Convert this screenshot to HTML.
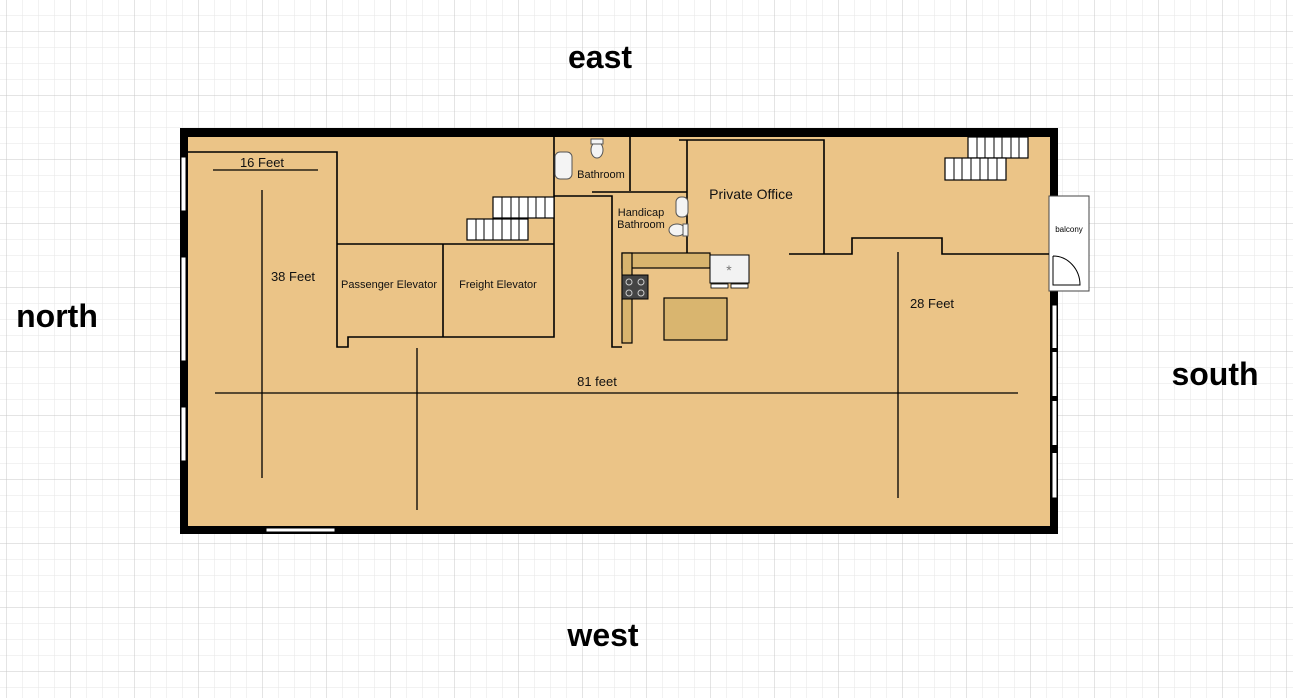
<!DOCTYPE html>
<html><head><meta charset="utf-8"><style>
html,body{margin:0;padding:0;background:#fff}
svg{display:block}
text{font-family:"Liberation Sans",sans-serif}
</style></head><body>
<svg width="1293" height="698" viewBox="0 0 1293 698" xmlns="http://www.w3.org/2000/svg">
<defs>
<pattern id="minor" x="6" y="15" width="16" height="16" patternUnits="userSpaceOnUse">
<path d="M0 0H16M0 0V16" stroke="#e6e6e6" stroke-width="1" fill="none"/>
</pattern>
<pattern id="major" x="6" y="31" width="64" height="64" patternUnits="userSpaceOnUse">
<path d="M0 0H64M0 0V64" stroke="#c8c8c8" stroke-width="1" fill="none"/>
</pattern>
</defs>
<rect width="1293" height="698" fill="#fff"/>
<rect width="1293" height="698" fill="url(#minor)"/>
<rect width="1293" height="698" fill="url(#major)"/>

<!-- building -->
<rect x="180" y="128" width="878" height="406" fill="#000"/>
<rect x="188" y="137" width="862" height="389" fill="#ebc487"/>

<!-- left wall windows -->
<g fill="#fff" stroke="#000" stroke-width="1">
<rect x="181" y="157" width="5" height="54"/>
<rect x="181" y="257" width="5" height="104"/>
<rect x="181" y="407" width="5" height="54"/>
<rect x="266" y="528" width="69" height="4"/>
<rect x="1052" y="305" width="5" height="193"/>
</g>
<g fill="#000"><rect x="1051" y="348" width="7" height="4"/><rect x="1051" y="396" width="7" height="5"/><rect x="1051" y="445" width="7" height="8"/></g>

<!-- balcony -->
<rect x="1049" y="196" width="40" height="95" fill="#fff" stroke="#444" stroke-width="1"/>
<rect x="1050" y="255" width="8" height="30" fill="#fff"/>
<path d="M1053 256 V285 H1080 A27 29 0 0 0 1053 256" fill="#fff" stroke="#000" stroke-width="1"/>
<text x="1069" y="232" font-size="8" text-anchor="middle">balcony</text>

<!-- walls -->
<g stroke="#000" stroke-width="1.6" fill="none">
<path d="M188 152H337V347H348V337H554V137"/>
<path d="M337 244H554"/>
<path d="M443 244V337"/>
<path d="M554 196H612V347H622"/>
<path d="M592 192H687"/>
<path d="M630 137V191"/>
<path d="M679 140H824V254"/>
<path d="M687 140V253"/>
<path d="M789 254H852V238H942V254H1049"/>
<!-- dimension lines -->
<path d="M213 170H318" stroke-width="1.3"/>
<path d="M262 190V478" stroke-width="1.3"/>
<path d="M215 393H1018" stroke-width="1.3"/>
<path d="M417 348V510" stroke-width="1.3"/>
<path d="M898 252V498" stroke-width="1.3"/>
</g>

<!-- stairs -->
<g fill="#fff" stroke="#000" stroke-width="1.2">
<rect x="493" y="197" width="61" height="21"/>
<rect x="467" y="219" width="61" height="21"/>
<rect x="968" y="137" width="60" height="21"/>
<rect x="945" y="158" width="61" height="22"/>
</g>
<g stroke="#000" stroke-width="1">
<path d="M502 197V218M511 197V218M519 197V218M528 197V218M536 197V218M545 197V218"/>
<path d="M476 219V240M484 219V240M493 219V240M502 219V240M511 219V240M519 219V240"/>
<path d="M977 137V158M985 137V158M994 137V158M1002 137V158M1011 137V158M1019 137V158"/>
<path d="M954 158V180M962 158V180M971 158V180M980 158V180M988 158V180M997 158V180"/>
</g>

<!-- fixtures -->
<g fill="#f4f4f4" stroke="#555" stroke-width="1">
<rect x="555" y="152" width="17" height="27" rx="5"/>
<ellipse cx="597" cy="150" rx="6" ry="8"/>
<rect x="591" y="139" width="12" height="5"/>
<rect x="676" y="197" width="12" height="20" rx="5"/>
<ellipse cx="677" cy="230" rx="8" ry="6"/>
<rect x="683" y="224" width="5" height="12"/>
</g>

<!-- kitchen -->
<rect x="622" y="253" width="88" height="15" fill="#d8b46e" stroke="#000" stroke-width="1.2"/>
<rect x="622" y="253" width="10" height="90" fill="#d8b46e" stroke="#000" stroke-width="1.2"/>
<rect x="622" y="275" width="26" height="24" fill="#444" stroke="#000"/>
<g fill="none" stroke="#ccc" stroke-width="1"><circle cx="629" cy="282" r="3"/><circle cx="641" cy="282" r="3"/><circle cx="629" cy="293" r="3"/><circle cx="641" cy="293" r="3"/></g>
<rect x="710" y="255" width="39" height="28" fill="#f2f2f2" stroke="#000" stroke-width="1"/>
<text x="729" y="275" font-size="14" text-anchor="middle" fill="#777">*</text>
<rect x="711" y="284" width="17" height="4" fill="#fff" stroke="#000" stroke-width=".8"/>
<rect x="731" y="284" width="17" height="4" fill="#fff" stroke="#000" stroke-width=".8"/>
<rect x="664" y="298" width="63" height="42" fill="#d9b56f" stroke="#000" stroke-width="1.2"/>

<!-- labels -->
<g font-size="11" fill="#111" text-anchor="middle">
<text x="262" y="167" font-size="13">16 Feet</text>
<text x="293" y="281" font-size="13">38 Feet</text>
<text x="389" y="288">Passenger Elevator</text>
<text x="498" y="288">Freight Elevator</text>
<text x="601" y="178">Bathroom</text>
<text x="641" y="216">Handicap</text>
<text x="641" y="228">Bathroom</text>
<text x="751" y="199" font-size="14">Private Office</text>
<text x="932" y="308" font-size="13">28 Feet</text>
<text x="597" y="386" font-size="13">81 feet</text>
</g>
<g font-size="32" font-weight="bold" fill="#000" text-anchor="middle">
<text x="600" y="68">east</text>
<text x="57" y="327">north</text>
<text x="1215" y="385">south</text>
<text x="603" y="646">west</text>
</g>
</svg>
</body></html>
